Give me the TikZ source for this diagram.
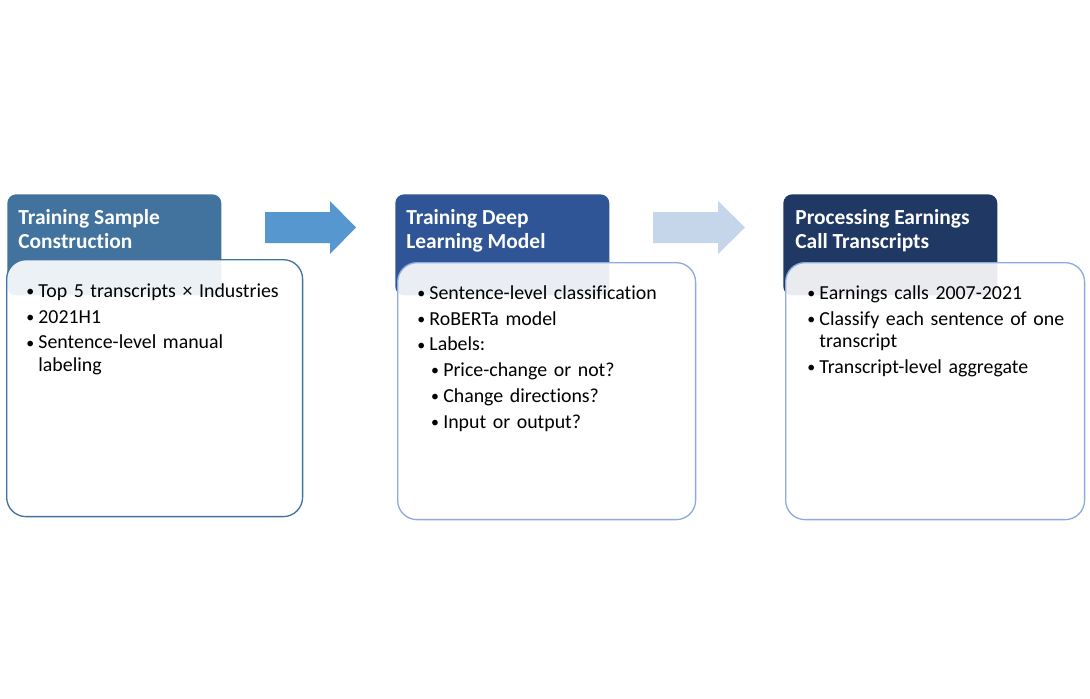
\documentclass[tikz,border=0pt]{standalone}
\usepackage{fontspec}
\setmainfont{Carlito}[Ligatures=NoCommon]
\usetikzlibrary{positioning}
\definecolor{hdrA}{HTML}{42729E}
\definecolor{hdrB}{HTML}{2F5597}
\definecolor{hdrC}{HTML}{203864}
\definecolor{arrA}{HTML}{5797CF}
\definecolor{arrB}{HTML}{C5D6EB}
\definecolor{rimB}{HTML}{8FAADC}
\newcommand{\bdot}{\makebox[6.3pt][l]{\hspace{-0.6pt}\raisebox{0.4pt}{\scalebox{0.8}{•}}}}
\newcommand{\bitem}[1]{\par\noindent\hangindent=6.3pt\hangafter=1\bdot#1\par}
\newcommand{\sitem}[1]{\par\noindent\hangindent=14.2pt\hangafter=1\hspace*{7.9pt}\bdot#1\par}

\begin{document}
\begin{tikzpicture}[
      x=0.02cm, y=-0.02cm,
      hdr/.style={anchor=north west, rounded corners=5pt, inner sep=0pt,
        minimum width=4.28cm, minimum height=2.02cm},
      hdrtxt/.style={anchor=north west, inner sep=0pt, align=left, text=white,
        font=\fontsize{12.2}{13.6}\selectfont\bfseries},
      body/.style={anchor=north west, draw, line width=0.75pt, rounded corners=11pt,
        fill=white, fill opacity=0.9, inner sep=0pt, minimum height=5.14cm},
      bodytxt/.style={anchor=north west, inner sep=0pt, align=left, text width=5.6cm,
        font=\fontsize{11.3}{13}\selectfont},
    ]
    \useasboundingbox[fill=white] (0,0) rectangle (1090,698);
    % stage headers
    \node[hdr, fill=hdrA] (h1) at (7,194) {};
    \node[hdr, fill=hdrB] (h2) at (395,194) {};
    \node[hdr, fill=hdrC] (h3) at (783,194) {};
    % stage bodies, lying over the headers
    \node[body, draw=hdrA, minimum width=5.92cm] (b1) at (6,259) {};
    \node[body, draw=rimB, minimum width=5.96cm] (b2) at (397,262) {};
    \node[body, draw=rimB, minimum width=5.98cm] (b3) at (785,262) {};
    \node[hdrtxt] (t1) at (18,209) {Training Sample\\Construction};
    \node[hdrtxt] (t2) at (406,209) {Training Deep\\Learning Model};
    \node[hdrtxt] (t3) at (795,209) {Processing Earnings\\Call Transcripts};
    \node[bodytxt] (l1) at (27,271) {\setlength{\parskip}{1.7pt}%
      \bitem{Top 5 transcripts × Industries}
      \bitem{2021H1}
      \bitem{Sentence-level manual\newline labeling}};
    \node[bodytxt] (l2) at (418,273) {\setlength{\parskip}{1.7pt}%
      \bitem{Sentence-level classification}
      \bitem{RoBERTa model}
      \bitem{Labels:}
      \sitem{Price-change or not?}
      \sitem{Change directions?}
      \sitem{Input or output?}};
    \node[bodytxt] (l3) at (808,273) {\setlength{\parskip}{1.7pt}%
      \bitem{Earnings calls 2007-2021}
      \bitem{Classify each sentence of one\newline transcript}
      \bitem{Transcript-level aggregate}};
    % block arrows between stages
    \coordinate (a1) at (265,212);
    \coordinate (a2) at (653,212);
    \fill[arrA] (a1) -- ++(65,0) -- ++(0,-11) -- ++(26,26.5) -- ++(-26,26.5)
      -- ++(0,-11) -- ++(-65,0) -- cycle;
    \fill[arrB] (a2) -- ++(65,0) -- ++(0,-11) -- ++(27,26.5) -- ++(-27,26.5)
      -- ++(0,-11) -- ++(-65,0) -- cycle;
  \end{tikzpicture}
\end{document}
